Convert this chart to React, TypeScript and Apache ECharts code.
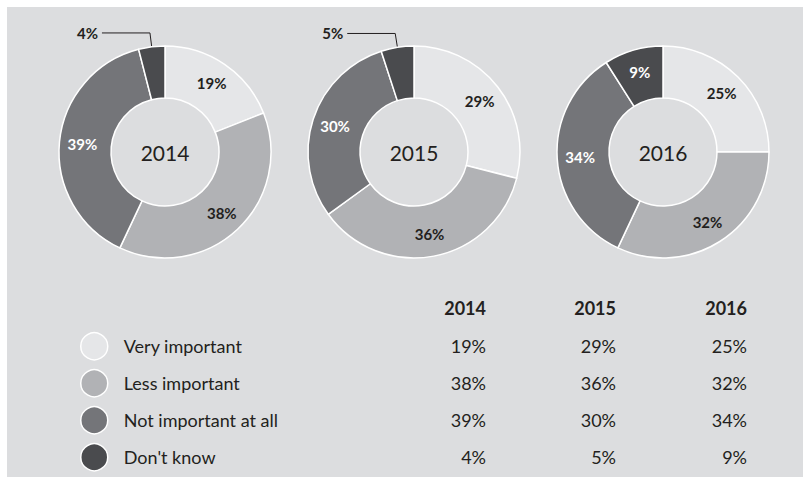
import React, { useEffect, useRef } from "react";
import * as echarts from "echarts";

const years = ["2014", "2015", "2016"];
const categories = ["Very important", "Less important", "Not important at all", "Don't know"];
const values2014 = [19, 38, 39, 4];
const values2015 = [29, 36, 30, 5];
const values2016 = [25, 32, 34, 9];
const allValues = [values2014, values2015, values2016];

const colors = ["#e5e6e8", "#b1b2b5", "#747579", "#4a4b4e"];
const labelColors = ["#231f20", "#231f20", "#ffffff", "#ffffff"];
const centersX = [165, 414, 663];
const centerY = 152;
const colRight = [486, 616, 747];
const rowY = [346, 383, 420, 457];
const FONT = "Lato, 'Open Sans', sans-serif";
const TEXT = "#231f20";

export default function App() {
  const ref = useRef<HTMLDivElement>(null);
  useEffect(() => {
    if (!ref.current) return;
    const chart = echarts.init(ref.current, null, { renderer: "svg" });

    const series = allValues.map((vals, si) => ({
      type: "pie",
      name: years[si],
      center: [centersX[si], centerY],
      radius: [54, 106],
      startAngle: 90,
      clockwise: true,
      avoidLabelOverlap: false,
      z: 3,
      itemStyle: { borderColor: "#ffffff", borderWidth: 1.5 },
      label: {
        show: true,
        position: "inside",
        formatter: "{c}%",
        fontFamily: FONT,
        fontWeight: "bold",
        fontSize: 15,
      },
      labelLine: { show: false },
      emphasis: { disabled: true },
      data: vals.map((v, i) => {
        const outside = v < 6;
        return {
          name: categories[i],
          value: v,
          itemStyle: { color: colors[i] },
          label: outside
            ? { position: "outside", color: TEXT, distanceToLabelLine: 4 }
            : { color: labelColors[i] },
          labelLine: outside
            ? { show: true, length: 14, length2: 48, lineStyle: { color: TEXT, width: 1 } }
            : { show: false },
        };
      }),
    }));

    const graphics: any[] = [
      {
        type: "rect",
        shape: { x: 7, y: 7, width: 796, height: 470 },
        style: { fill: "#dcdddf" },
        z: -10,
        silent: true,
      },
    ];
    years.forEach((y, i) => {
      graphics.push({
        type: "text",
        x: centersX[i],
        y: centerY,
        z: 10,
        style: {
          text: y,
          fill: TEXT,
          font: `21px ${FONT}`,
          textAlign: "center",
          textVerticalAlign: "middle",
        },
      });
      graphics.push({
        type: "text",
        x: colRight[i],
        y: 308,
        z: 10,
        style: {
          text: y,
          fill: TEXT,
          font: `bold 18px ${FONT}`,
          textAlign: "right",
          textVerticalAlign: "middle",
        },
      });
      allValues[i].forEach((v, r) => {
        graphics.push({
          type: "text",
          x: colRight[i],
          y: rowY[r],
          z: 10,
          style: {
            text: `${v}%`,
            fill: TEXT,
            font: `18px ${FONT}`,
            textAlign: "right",
            textVerticalAlign: "middle",
          },
        });
      });
    });

    chart.setOption({
      animation: false,
      backgroundColor: "#ffffff",
      legend: {
        orient: "vertical",
        left: 80,
        top: 332,
        height: 150,
        padding: 0,
        icon: "circle",
        itemWidth: 27,
        itemHeight: 27,
        itemGap: 8.5,
        selectedMode: false,
        data: categories,
        itemStyle: { borderColor: "#ffffff", borderWidth: 1.5 },
        textStyle: {
          fontFamily: FONT,
          fontSize: 18,
          color: TEXT,
          padding: [0, 0, 0, 11],
        },
      },
      graphic: graphics,
      series,
    });
    return () => chart.dispose();
  }, []);
  return (
    <div
      ref={ref}
      style={{ position: "absolute", left: 0, top: 0, width: 811, height: 485 }}
    />
  );
}
